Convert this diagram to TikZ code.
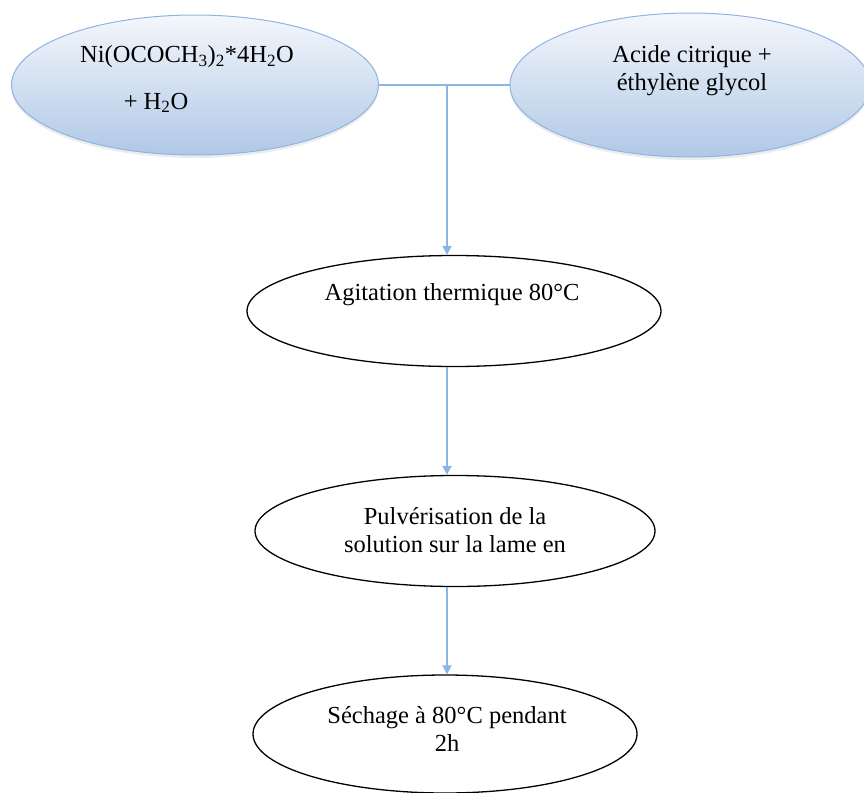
\documentclass[tikz,border=0pt]{standalone}
\usepackage{fontspec}
\setmainfont{Liberation Serif}
\usetikzlibrary{arrows.meta,shapes.geometric,shadows}
\definecolor{bleuflux}{HTML}{8EB4E3}
\definecolor{bleuhaut}{HTML}{F4F7FC}
\definecolor{bleubas}{HTML}{B0C8E6}
\tikzset{
  entree/.style={ellipse, draw=bleuflux, line width=1pt, top color=bleuhaut, bottom color=bleubas, inner sep=0pt,
    drop shadow={shadow xshift=0pt, shadow yshift=-3pt, opacity=0.15}},
  etape/.style={ellipse, draw=black, line width=1.3pt, fill=white, inner sep=0pt},
  txt/.style={font=\fontsize{24.5}{28}\selectfont, align=center, inner sep=0pt},
  fleche/.style={draw=bleuflux, line width=1.8pt, -{Triangle[length=9pt,width=9pt]}},
  trait/.style={draw=bleuflux, line width=1.6pt}
}
\begin{document}
\begin{tikzpicture}[x=1pt,y=-1pt]
  \useasboundingbox (0,0) rectangle (864,792);
  \begin{scope}
  \clip (0,0) rectangle (864,792);
  % reactifs
  \node [entree, minimum width=367pt, minimum height=140pt] (ni) at (195,85) {};
  \node [entree, minimum width=360pt, minimum height=144pt] (acide) at (690,85) {};

  % etapes
  \node [etape, minimum width=414pt, minimum height=111pt] (agit) at (454,311) {};
  \node [etape, minimum width=400pt, minimum height=111pt] (pulv) at (455,531) {};
  \node [etape, minimum width=384pt, minimum height=118pt] (sech) at (445,734) {};
  \end{scope}

  \node [txt] (niA) at (187,57) {Ni(OCOCH\textsubscript{3})\textsubscript{2}*4H\textsubscript{2}O};
  \node [txt] (niB) at (156,103) {+ H\textsubscript{2}O};
  \node [txt] (acideT) at (692,71) {Acide citrique +\\éthylène glycol};
  \node [txt] (agitT) at (452,295) {Agitation thermique 80°C};
  \node [txt] (pulvT) at (455,530) {Pulvérisation de la\\solution sur la lame en};
  \node [txt] (sechT) at (447,729) {Séchage à 80°C pendant\\2h};

  \coordinate (join) at (447,85);
  \draw [trait] (ni.east) -- (acide.west);
  \draw [fleche] (join) -- (join |- agit.north);
  \draw [fleche] (agit.south -| join) -- (pulv.north -| join);
  \draw [fleche] (pulv.south -| join) -- (sech.north -| join);
\end{tikzpicture}
\end{document}
